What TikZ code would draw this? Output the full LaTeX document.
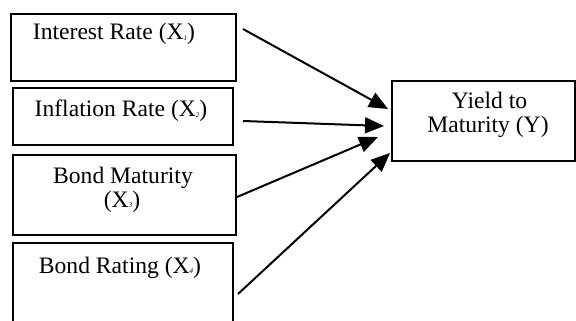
\documentclass[tikz,border=0pt]{standalone}
\usepackage{fontspec}
\setmainfont{Liberation Serif}
\usetikzlibrary{arrows.meta}
\newcommand{\subx}[1]{\raisebox{-0.3pt}{\fontsize{3.5}{4}\selectfont\itshape #1}}
\begin{document}
\begin{tikzpicture}[x=0.5pt,y=-0.5pt,
  box/.style={draw,line width=1.1pt,inner sep=0pt,outer sep=0pt},
  lbl/.style={inner sep=0pt,anchor=base,font=\fontsize{11.8}{12}\selectfont},
  arr/.style={line width=1pt,-{Triangle[length=9.5pt,width=8pt]}}]
\useasboundingbox (0,0) rectangle (576,320);
\clip (0,0) rectangle (576,320);
% boxes
\node[box,minimum width=112.5pt,minimum height=33.5pt] (b1) at (123.5,47.5) {};
\node[box,minimum width=110pt,minimum height=28.5pt] (b2) at (123,116.5) {};
\node[box,minimum width=111.5pt,minimum height=40pt] (b3) at (124.5,195) {};
\node[box,minimum width=110pt,minimum height=48.5pt] (b4) at (123,291.5) {};
\node[box,minimum width=91.5pt,minimum height=40pt] (y) at (483.5,121) {};
% labels
\node[lbl] (l1) at (114,40) {Interest Rate (X\subx{1})};
\node[lbl] (l2) at (121,117) {Inflation Rate (X\subx{2})};
\node[lbl] (l3a) at (123,183) {Bond Maturity};
\node[lbl] (l3b) at (122,207) {(X\subx{3})};
\node[lbl] (l4) at (120,273) {Bond Rating (X\subx{4})};
\node[lbl] (ya) at (489.5,109) {Yield to};
\node[lbl] (yb) at (488,133) {Maturity (Y)};
% arrow ends
\coordinate (s1) at (243,29);  \coordinate (t1) at (388,109);
\coordinate (s2) at (243,121); \coordinate (t2) at (384,126);
\coordinate (s3) at (237,197); \coordinate (t3) at (378,137);
\coordinate (s4) at (238,294); \coordinate (t4) at (390,153);
\draw[arr] (s1) -- (t1);
\draw[arr] (s2) -- (t2);
\draw[arr] (s3) -- (t3);
\draw[arr] (s4) -- (t4);
\end{tikzpicture}
\end{document}
